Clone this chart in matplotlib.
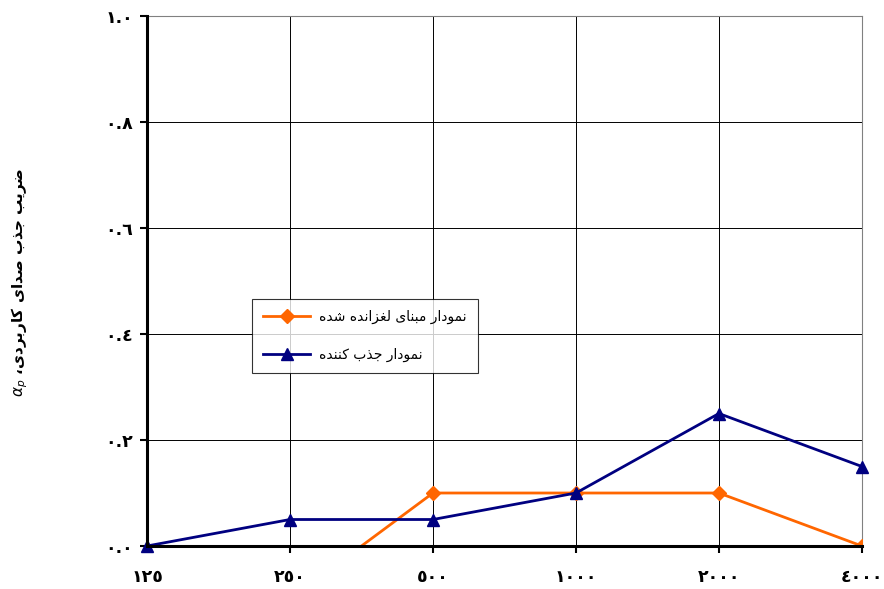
import numpy as np
import matplotlib
matplotlib.use('Agg')
import matplotlib.pyplot as plt

# داده‌ها
freqs = ['١٢٥', '٢٥٠', '٥٠٠', '١٠٠٠', '٢٠٠٠', '٤٠٠٠']
base_vals = [-0.15, -0.10, 0.10, 0.10, 0.10, 0.00]
absorb_vals = [0.00, 0.05, 0.05, 0.10, 0.25, 0.15]
yticks = [0.0, 0.2, 0.4, 0.6, 0.8, 1.0]
ytick_labels = ['٠.٠', '٠.٢', '٠.٤', '٠.٦', '٠.٨', '١.٠']

base_name = 'نمودار مبنای لغزانده شده'
absorb_name = 'نمودار جذب کننده'
ylabel_fa = 'ضریب جذب صدای کاربردی،'

# شکل‌دهی ساده حروف فارسی (matplotlib حروف را به هم نمی‌چسباند)
forms = {
    'ا': (0xFE8D, 0xFE8E, None, None),
    'ب': (0xFE8F, 0xFE90, 0xFE91, 0xFE92),
    'ج': (0xFE9D, 0xFE9E, 0xFE9F, 0xFEA0),
    'د': (0xFEA9, 0xFEAA, None, None),
    'ذ': (0xFEAB, 0xFEAC, None, None),
    'ر': (0xFEAD, 0xFEAE, None, None),
    'ز': (0xFEAF, 0xFEB0, None, None),
    'ش': (0xFEB5, 0xFEB6, 0xFEB7, 0xFEB8),
    'ص': (0xFEB9, 0xFEBA, 0xFEBB, 0xFEBC),
    'ض': (0xFEBD, 0xFEBE, 0xFEBF, 0xFEC0),
    'غ': (0xFECD, 0xFECE, 0xFECF, 0xFED0),
    'ل': (0xFEDD, 0xFEDE, 0xFEDF, 0xFEE0),
    'م': (0xFEE1, 0xFEE2, 0xFEE3, 0xFEE4),
    'ن': (0xFEE5, 0xFEE6, 0xFEE7, 0xFEE8),
    'ه': (0xFEE9, 0xFEEA, 0xFEEB, 0xFEEC),
    'و': (0xFEED, 0xFEEE, None, None),
    'ی': (0xFEEF, 0xFEF0, 0xFEF3, 0xFEF4),
    'ک': (0xFED9, 0xFEDA, 0xFEDB, 0xFEDC),
}

def shape(s):
    out = []
    for i, ch in enumerate(s):
        if ch not in forms:
            out.append(ch)
            continue
        prev = s[i-1] if i > 0 else ''
        nxt = s[i+1] if i < len(s)-1 else ''
        join_prev = prev in forms and forms[prev][2] is not None
        join_next = nxt in forms and forms[ch][2] is not None
        f = forms[ch]
        if join_prev and join_next:
            c = f[3]
        elif join_prev:
            c = f[1]
        elif join_next:
            c = f[2]
        else:
            c = f[0]
        out.append(chr(c))
    return ''.join(out)[::-1]

plt.rcParams['font.family'] = ['DejaVu Sans']

fig = plt.figure(figsize=(8.84, 5.89), dpi=100)
ax = fig.add_axes([0.1663, 0.0730, 0.8087, 0.8998])

x = np.arange(len(freqs))
ax.plot(x, base_vals, color='#FF6600', lw=2.0, marker='D', ms=7,
        label=shape(base_name), zorder=3)
ax.plot(x, absorb_vals, color='#000080', lw=2.0, marker='^', ms=9,
        label=shape(absorb_name), zorder=3, clip_on=False)

ax.set_xlim(0, len(freqs) - 1)
ax.set_ylim(0, 1.0)
ax.set_xticks(x)
ax.set_xticklabels(freqs, fontsize=12.5, fontweight='bold')
ax.set_yticks(yticks)
ax.set_yticklabels(ytick_labels, fontsize=12.5, fontweight='bold')
ax.tick_params(direction='out', length=5, width=1.5, pad=5)
ax.tick_params(axis='x', pad=11)

ax.grid(True, color='black', lw=0.7)
ax.set_axisbelow(True)
for side in ['top', 'right']:
    ax.spines[side].set_color('gray')
    ax.spines[side].set_linewidth(0.8)
for side in ['left', 'bottom']:
    ax.spines[side].set_linewidth(2.2)
    ax.spines[side].set_zorder(4)

fig.text(0.022, 0.52, '$\\alpha_p$ ' + shape(ylabel_fa), rotation=90,
         ha='center', va='center', fontsize=11, fontweight='bold')

leg = ax.legend(loc='lower left', bbox_to_anchor=(0.147, 0.326), fontsize=10,
                frameon=True, fancybox=False, edgecolor='black',
                borderpad=0.8, labelspacing=1.7, handlelength=3.4,
                handletextpad=0.6, borderaxespad=0)
leg.get_frame().set_linewidth(0.8)

fig.savefig('out.png', dpi=100)
